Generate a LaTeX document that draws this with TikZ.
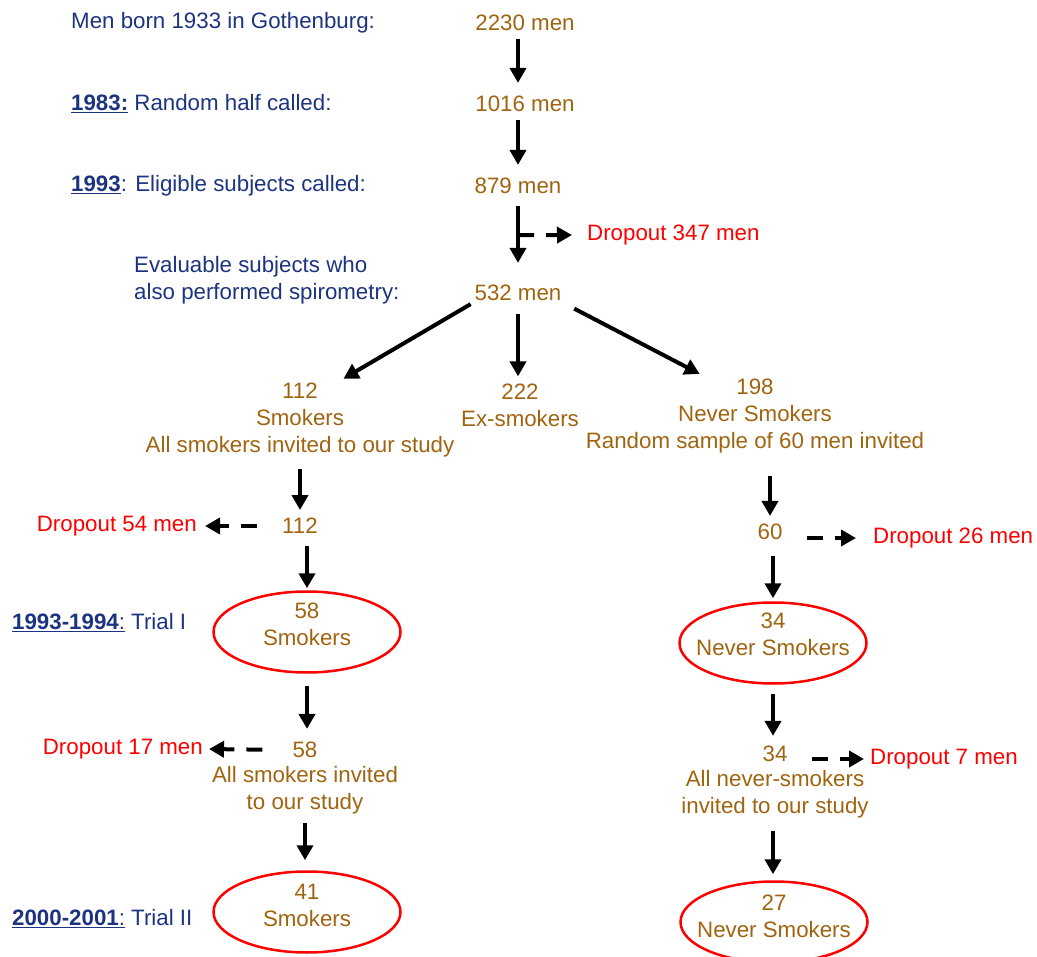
\documentclass[tikz,border=0pt]{standalone}
\usepackage{fontspec}
\setmainfont{Liberation Sans}
\usetikzlibrary{calc}
\usetikzlibrary{arrows.meta}
\usetikzlibrary{shapes.geometric}

\definecolor{navy}{RGB}{28,52,128}
\definecolor{ochre}{RGB}{160,100,15}
\definecolor{dropred}{RGB}{255,0,0}

\begin{document}
\begin{tikzpicture} [x=1pt, y=-1pt,
  txt/.style={font=\fontsize{22.3}{27}\selectfont, inner sep=2pt, align=center},
  lbl/.style={txt, navy, anchor=west, align=left},
  cnt/.style={txt, ochre},
  drop/.style={txt, dropred},
  arr/.style={line width=4pt, -{Triangle[width=16pt,length=15pt]}},
  dasharr/.style={arr, dash pattern=on 16pt off 12pt},
  oval/.style={ellipse, draw=dropred, line width=2.5pt, minimum width=187pt, minimum height=81pt, inner sep=0pt}]
\useasboundingbox (0,0) rectangle (1037,957);

% labels on the left
\node[lbl] (born) at (69,23) {Men born 1933 in Gothenburg:};
\node[lbl] (y1983) at (69,104) {\underline{\textbf{1983:}} Random half called:};
\node[lbl] (y1993) at (69,186) {\underline{\textbf{1993}}: Eligible subjects called:};
\node[lbl] (evalsub) at (132,280) {Evaluable subjects who\\also performed spirometry:};
\node[lbl] (trialone) at (10,623) {\underline{\textbf{1993-1994}:} Trial I};
\node[lbl] (trialtwo) at (10,919) {\underline{\textbf{2000-2001}:} Trial II};

% counts
\node[cnt] (n2230) at (525,23) {2230 men};
\node[cnt] (n1016) at (525,104) {1016 men};
\node[cnt] (n879) at (518,186) {879 men};
\node[cnt] (n532) at (518,293) {532 men};
\node[cnt] (smk) at (300,420) {112\\Smokers\\All smokers invited to our study};
\node[cnt] (exs) at (520,405) {222\\Ex-smokers};
\node[cnt] (nev) at (755,416) {198\\Never Smokers\\Random sample of 60 men invited};

% smokers branch
\node[cnt] (s112) at (300,526) {112};
\node[oval] (trialA) at (307,632) {};
\node[cnt] (trialAtxt) at (307,624) {58\\Smokers};
\node[cnt] (s58) at (305,750) {58};
\node[cnt] (s58inv) at (305,790.5) {All smokers invited\\to our study};
\node[oval] (trialB) at (307,912) {};
\node[cnt] (trialBtxt) at (307,905.5) {41\\Smokers};

% never smokers branch
\node[cnt] (n60) at (770,532) {60};
\node[oval] (trialC) at (773,643) {};
\node[cnt] (trialCtxt) at (773,634) {34\\Never Smokers};
\node[cnt] (n34) at (775,754) {34};
\node[cnt] (n34inv) at (775,794.5) {All never-smokers\\invited to our study};
\node[oval] (trialD) at (774,922) {};
\node[cnt] (trialDtxt) at (774,916) {27\\Never Smokers};

% dropouts
\node[drop, anchor=west] (d347) at (585,235) {Dropout 347 men};
\node[drop, anchor=east] (d54) at (199,526) {Dropout 54 men};
\node[drop, anchor=west] (d26) at (871,538) {Dropout 26 men};
\node[drop, anchor=east] (d17) at (205,749) {Dropout 17 men};
\node[drop, anchor=west] (d7) at (868,759) {Dropout 7 men};

% arrows
\draw[arr, shorten <=6pt, shorten >=11pt] (n2230.south -| n879) -- (n1016.north -| n879);
\draw[arr, shorten <=6pt, shorten >=11pt] (n1016.south -| n879) -- (n879.north);
\draw[arr, shorten <=10pt, shorten >=20pt] (n879.south) -- (n532.north);
\coordinate (split) at ($(n879.south)!0.45!(n532.north)$);
\draw[dasharr, shorten >=13pt] (split) -- (d347.west);

\draw[arr, shorten <=2pt, shorten >=4pt] (n532.south west) -- ([xshift=40pt]smk.north);
\draw[arr, shorten <=11pt, shorten >=5pt] (n532.south) -- (exs.north -| n532);
\draw[arr, shorten <=12pt, shorten >=6pt] (n532.south east) -- ([xshift=-50pt]nev.north);

\draw[arr, shorten <=10pt, shorten >=6pt] (smk.south) -- (s112.north);
\draw[dasharr, shorten <=23pt, shorten >=6pt] (s112.west) -- (d54.east);
\draw[arr, shorten <=10pt, shorten >=2pt] (s112.south -| trialA) -- (trialA.north);
\draw[arr, shorten <=12pt, shorten >=11pt] (trialA.south) -- (s58.north -| trialA);
\draw[dasharr, shorten <=28pt, shorten >=4pt] (s58.west) -- (d17.east);
\draw[arr, shorten <=6pt, shorten >=10pt] (s58inv.south -| s58) -- (trialB.north -| s58);

\draw[arr, shorten <=21pt, shorten >=6pt] (nev.south -| n60) -- (n60.north);
\draw[dasharr, shorten <=22pt, shorten >=15pt] (d26.west -| n60.east) -- (d26.west);
\draw[arr, shorten <=14pt, shorten >=3pt] (n60.south -| trialC) -- (trialC.north);
\draw[arr, shorten <=9pt, shorten >=8pt] (trialC.south) -- (n34.north -| trialC);
\draw[dasharr, shorten <=22pt, shorten >=4pt] (d7.west -| n34.east) -- (d7.west);
\draw[arr, shorten <=10pt, shorten >=6pt] (n34inv.south -| trialC) -- (trialD.north -| trialC);

\end{tikzpicture}
\end{document}
